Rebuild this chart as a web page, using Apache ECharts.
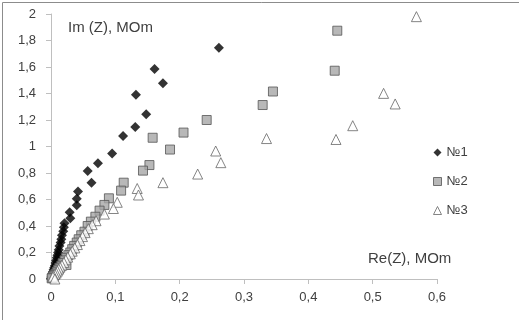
<!DOCTYPE html>
<html><head><meta charset="utf-8">
<script src="https://cdn.jsdelivr.net/npm/echarts@6/dist/echarts.min.js"></script>
<style>html,body{margin:0;padding:0;background:#fff}#c{width:519px;height:320px}</style>
</head><body><div id="c"></div>
<script>
const seriesNames = ['№1', '№2', '№3'];
const xTicks = [0, 0.1, 0.2, 0.3, 0.4, 0.5, 0.6];
const yTicks = [0, 0.2, 0.4, 0.6, 0.8, 1, 1.2, 1.4, 1.6, 1.8, 2];
const xTitle = 'Re(Z), MOm';
const yTitle = 'Im (Z), MOm';

const s1 = [[0.261,1.745],[0.161,1.585],[0.174,1.477],[0.132,1.391],[0.148,1.243],[0.131,1.147],[0.112,1.079],[0.095,0.948],[0.073,0.873],[0.057,0.815],[0.063,0.727],[0.042,0.66],[0.040,0.605],[0.040,0.556],[0.029,0.503],[0.030,0.458],[0.021,0.42],[0.020,0.39],[0.019,0.36],[0.017,0.33],[0.016,0.30],[0.015,0.275],[0.013,0.25],[0.012,0.22],[0.011,0.2],[0.010,0.18],[0.009,0.16],[0.008,0.14],[0.007,0.12],[0.006,0.10],[0.005,0.085],[0.004,0.07],[0.003,0.055],[0.003,0.045],[0.002,0.035],[0.002,0.025],[0.001,0.018],[0.001,0.01],[0.0005,0.005],[0,0.002]];
const s2 = [[0.445,1.874],[0.441,1.572],[0.345,1.415],[0.329,1.313],[0.242,1.2],[0.206,1.105],[0.158,1.066],[0.185,0.977],[0.153,0.86],[0.143,0.818],[0.113,0.727],[0.109,0.667],[0.090,0.609],[0.083,0.559],[0.0755,0.516],[0.069,0.47],[0.062,0.433],[0.057,0.40],[0.052,0.357],[0.047,0.33],[0.043,0.30],[0.040,0.275],[0.036,0.25],[0.033,0.225],[0.030,0.20],[0.027,0.18],[0.024,0.16],[0.021,0.14],[0.018,0.12],[0.016,0.10],[0.013,0.085],[0.011,0.07],[0.009,0.055],[0.007,0.04],[0.005,0.03],[0.003,0.02],[0.002,0.01],[0.001,0.005],[0.024,0.106]];
const s3 = [[0.568,1.98],[0.517,1.401],[0.535,1.321],[0.469,1.157],[0.335,1.06],[0.443,1.053],[0.256,0.966],[0.264,0.878],[0.228,0.792],[0.174,0.727],[0.134,0.683],[0.136,0.634],[0.103,0.579],[0.097,0.532],[0.083,0.49],[0.070,0.44],[0.064,0.41],[0.058,0.38],[0.053,0.35],[0.049,0.32],[0.045,0.29],[0.041,0.26],[0.037,0.235],[0.033,0.21],[0.030,0.19],[0.026,0.165],[0.023,0.145],[0.020,0.125],[0.017,0.105],[0.014,0.09],[0.012,0.075],[0.010,0.06],[0.008,0.045],[0.006,0.035],[0.004,0.025],[0.003,0.015],[0.006,0.0]];

const fmt = v => String(Math.round(v * 10) / 10).replace('.', ',');
const font = 'Liberation Sans';
const chart = echarts.init(document.getElementById('c'), null, {renderer: 'canvas'});
chart.setOption({
  animation: false,
  textStyle: {fontFamily: font},
  grid: {left: 51, right: 82, top: 14, bottom: 41, containLabel: false},
  xAxis: {
    type: 'value', min: xTicks[0], max: xTicks[xTicks.length - 1], interval: 0.1,
    axisLine: {lineStyle: {color: '#bfbfbf', width: 1}},
    axisTick: {show: true, length: 5, lineStyle: {color: '#bfbfbf'}},
    splitLine: {show: false},
    axisLabel: {formatter: fmt, color: '#404040', fontSize: 13, margin: 12, fontFamily: font}
  },
  yAxis: {
    type: 'value', min: yTicks[0], max: yTicks[yTicks.length - 1], interval: 0.2,
    axisLine: {show: true, lineStyle: {color: '#bfbfbf', width: 1}},
    axisTick: {show: true, length: 5, lineStyle: {color: '#bfbfbf'}},
    splitLine: {show: false},
    axisLabel: {formatter: fmt, color: '#404040', fontSize: 13, margin: 15, fontFamily: font}
  },
  legend: {
    orient: 'vertical', left: 428, top: 141, itemGap: 16, itemWidth: 8, itemHeight: 8,
    textStyle: {fontSize: 13, color: '#404040', fontFamily: font},
    data: [
      {name: seriesNames[0], icon: 'diamond', itemStyle: {color: '#000'}},
      {name: seriesNames[1], icon: 'rect', itemStyle: {color: '#a6a6a6', borderColor: '#555', borderWidth: 1}},
      {name: seriesNames[2], icon: 'triangle', itemStyle: {color: '#fff', borderColor: '#666', borderWidth: 1}}
    ]
  },
  series: [
    {name: seriesNames[0], type: 'scatter', data: s1, symbol: 'diamond', symbolSize: 10,
     itemStyle: {color: '#000'}},
    {name: seriesNames[1], type: 'scatter', data: s2, symbol: 'rect', symbolSize: 9,
     itemStyle: {color: '#a6a6a6', borderColor: '#555', borderWidth: 1}},
    {name: seriesNames[2], type: 'scatter', data: s3, symbol: 'triangle', symbolSize: 10,
     itemStyle: {color: '#fff', borderColor: '#666', borderWidth: 1}}
  ],
  graphic: [
    {type: 'rect', left: 0, top: 0, z: -1, shape: {x: 0.5, y: 0.5, width: 518, height: 319},
     style: {fill: 'none', stroke: '#8c8c8c', lineWidth: 1}},
    {type: 'text', left: 68, top: 20, style: {text: yTitle, fontSize: 15, fill: '#404040', fontFamily: font}},
    {type: 'text', left: 368, top: 251, style: {text: xTitle, fontSize: 15, fill: '#404040', fontFamily: font}}
  ]
});
</script></body></html>
